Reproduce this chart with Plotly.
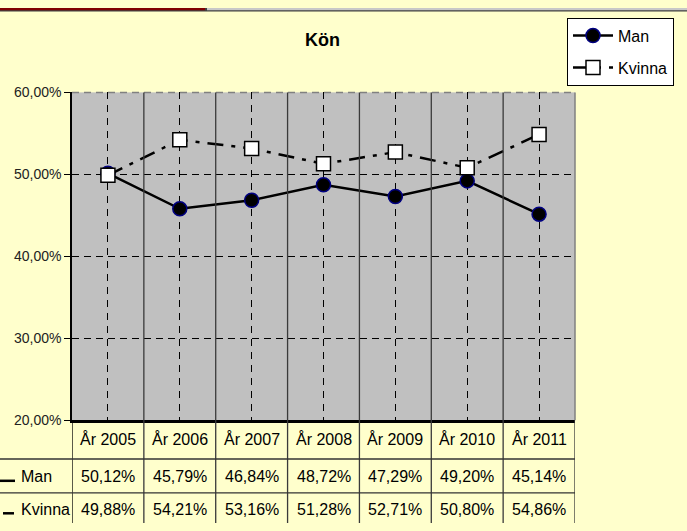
import plotly.graph_objects as go

# ---- data ----
categories = ["År 2005", "År 2006", "År 2007", "År 2008", "År 2009", "År 2010", "År 2011"]
series_names = ["Man", "Kvinna"]
man_values = [50.12, 45.79, 46.84, 48.72, 47.29, 49.20, 45.14]
kvinna_values = [49.88, 54.21, 53.16, 51.28, 52.71, 50.80, 54.86]
y_ticks = [20, 30, 40, 50, 60]
y_tick_labels = ["20,00%", "30,00%", "40,00%", "50,00%", "60,00%"]
title_text = "Kön"

W, H = 687, 531
FONT = "Liberation Sans, Arial, sans-serif"


def px(x):
    return x / W


def py(y):
    return 1 - y / H


def fmt(v):
    return f"{v:.2f}".replace(".", ",") + "%"


PLOT_L, PLOT_R, PLOT_T, PLOT_B = 72, 575, 87, 425
ROW1, ROW2 = 465, 500

fig = go.Figure()
fig.add_trace(go.Scatter(
    x=list(range(len(categories))), y=man_values, name=series_names[0],
    mode="lines+markers", legendgroup="a",
    line=dict(color="black", width=2.5),
    marker=dict(symbol="circle", size=14, color="black",
                line=dict(color="#000080", width=1.5)),
))
fig.add_trace(go.Scatter(
    x=list(range(len(categories))), y=kvinna_values, name=series_names[1],
    mode="lines+markers", legendgroup="b",
    line=dict(color="black", width=2.5, dash="16px,8px,4px,8px"),
    marker=dict(symbol="square", size=14, color="white",
                line=dict(color="black", width=1.5)),
))

shapes = []
# top decoration
shapes.append(dict(type="rect", xref="paper", yref="paper", x0=0, x1=1,
                   y0=py(3.5), y1=1, fillcolor="#404040", line_width=0, layer="above"))
shapes.append(dict(type="rect", xref="paper", yref="paper", x0=0, x1=px(205),
                   y0=py(2.2), y1=1, fillcolor="#800000", line_width=0, layer="above"))
shapes.append(dict(type="rect", xref="paper", yref="paper", x0=px(207), x1=1,
                   y0=py(2.2), y1=1, fillcolor="#C8C8C8", line_width=0, layer="above"))
# top border of plot (gray dashed) and right border
shapes.append(dict(type="line", xref="paper", yref="paper", x0=px(PLOT_L), x1=px(PLOT_R),
                   y0=py(PLOT_T), y1=py(PLOT_T), line=dict(color="#808080", width=1.5, dash="7px,5px"),
                   layer="above"))
shapes.append(dict(type="line", xref="paper", yref="paper", x0=px(PLOT_R), x1=px(PLOT_R),
                   y0=py(PLOT_B), y1=py(PLOT_T), line=dict(color="#808080", width=1.5)))
# category separators (plot + table)
for i in range(len(categories) + 1):
    shapes.append(dict(type="line", xref="x", yref="paper", x0=i - 0.5, x1=i - 0.5,
                       y0=0, y1=py(PLOT_T if 0 < i < len(categories) else PLOT_B),
                       line=dict(color="#000000" if i == 0 else "#3a3a3a", width=1.3),
                       layer="above"))
# table horizontal lines
for yy in (ROW1, ROW2):
    shapes.append(dict(type="line", xref="paper", yref="paper", x0=0, x1=px(PLOT_R),
                       y0=py(yy), y1=py(yy), line=dict(color="#333333", width=1.3)))
# row legend keys
shapes.append(dict(type="line", xref="paper", yref="paper", x0=px(0), x1=px(15),
                   y0=py(487.5), y1=py(487.5), line=dict(color="black", width=2.5)))
shapes.append(dict(type="line", xref="paper", yref="paper", x0=px(3), x1=px(14),
                   y0=py(521), y1=py(521), line=dict(color="black", width=2.5)))

annotations = []
annotations.append(dict(text=f"<b>{title_text}</b>", x=px(322), y=py(33), xref="paper", yref="paper",
                        showarrow=False, font=dict(family=FONT, size=18, color="black"),
                        xanchor="center", yanchor="middle"))
for i, cat in enumerate(categories):
    annotations.append(dict(text=cat, x=i, y=py(444), xref="x", yref="paper", showarrow=False,
                            font=dict(family=FONT, size=16, color="black"),
                            xanchor="center", yanchor="middle"))
    annotations.append(dict(text=fmt(man_values[i]), x=i, y=py(483.5), xref="x", yref="paper",
                            showarrow=False, font=dict(family=FONT, size=16, color="black"),
                            xanchor="center", yanchor="middle"))
    annotations.append(dict(text=fmt(kvinna_values[i]), x=i, y=py(517.5), xref="x", yref="paper",
                            showarrow=False, font=dict(family=FONT, size=16, color="black"),
                            xanchor="center", yanchor="middle"))
annotations.append(dict(text=series_names[0], x=px(19), y=py(483.5), xref="paper", yref="paper",
                        showarrow=False, font=dict(family=FONT, size=16, color="black"),
                        xanchor="left", yanchor="middle"))
annotations.append(dict(text=series_names[1], x=px(19), y=py(517.5), xref="paper", yref="paper",
                        showarrow=False, font=dict(family=FONT, size=16, color="black"),
                        xanchor="left", yanchor="middle"))

fig.update_layout(
    width=W, height=H,
    margin=dict(l=0, r=0, t=0, b=0),
    paper_bgcolor="#FFFFCC",
    plot_bgcolor="#C0C0C0",
    font=dict(family=FONT, size=14, color="black"),
    showlegend=True,
    legend=dict(x=px(567), y=py(10), xanchor="left", yanchor="top",
                bgcolor="white", bordercolor="black", borderwidth=1,
                font=dict(family=FONT, size=16, color="black"),
                tracegroupgap=8, traceorder="grouped",
                itemwidth=40),
    shapes=shapes,
    annotations=annotations,
    xaxis=dict(domain=[px(PLOT_L), px(PLOT_R)], range=[-0.5, len(categories) - 0.5],
               tickvals=list(range(len(categories))), showticklabels=False, ticks="",
               showgrid=True, gridcolor="black", gridwidth=1, griddash="7px,6px",
               zeroline=False, showline=True, linecolor="black", linewidth=2.5,
               fixedrange=True),
    yaxis=dict(domain=[py(PLOT_B), py(PLOT_T)], range=[20, 60],
               tickvals=y_ticks, ticktext=y_tick_labels,
               showgrid=True, gridcolor="black", gridwidth=1, griddash="7px,5px",
               zeroline=False, showline=True, linecolor="black", linewidth=1.5,
               ticks="outside", ticklen=6, tickcolor="black", tickwidth=1.3,
               tickfont=dict(family=FONT, size=14, color="#222"),
               fixedrange=True),
)

fig.write_html(
    "out.html",
    config={"displayModeBar": False},
    post_script=(
        "document.documentElement.style.margin='0';"
        "document.documentElement.style.overflow='hidden';"
        "document.body.style.margin='0';document.body.style.padding='0';"
        "document.body.style.overflow='hidden';"
        "var gd=document.getElementById('{plot_id}');"
        "gd.style.position='fixed';gd.style.top='0px';gd.style.left='0px';"
    ),
)
